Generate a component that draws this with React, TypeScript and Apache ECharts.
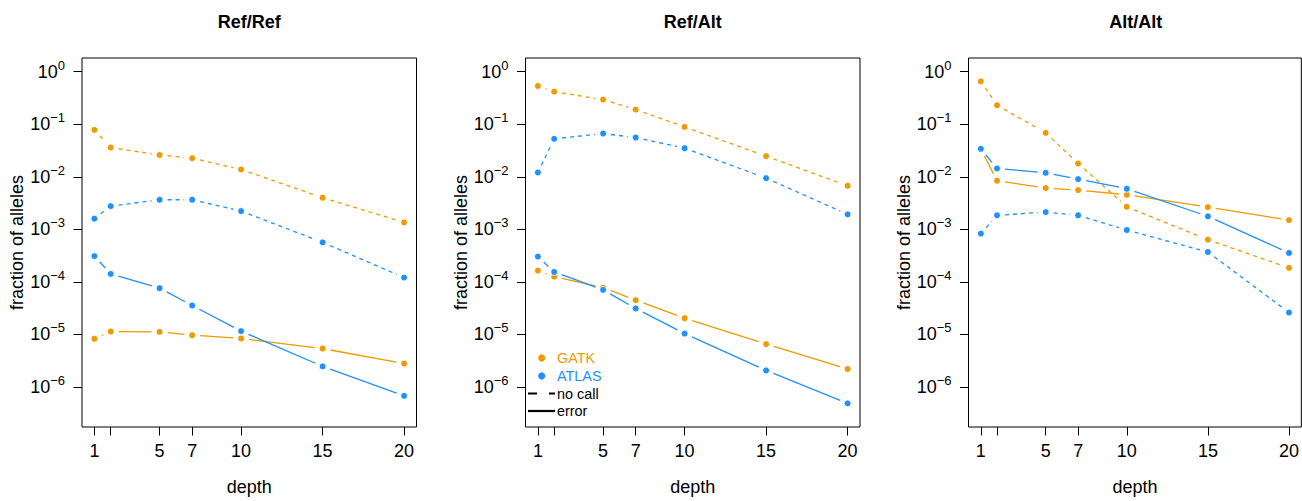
import React, { useEffect, useRef } from 'react';
import * as echarts from 'echarts';

// ---------- data ----------
const depths = [1, 2, 5, 7, 10, 15, 20];
const depthTicks = [1, 2, 5, 7, 10, 15, 20];
const depthTickLabels = [1, 5, 7, 10, 15, 20];
const yTickExponents = [0, -1, -2, -3, -4, -5, -6];
const panelTitles = ['Ref/Ref', 'Ref/Alt', 'Alt/Alt'];

const refRefGatkNoCall = [0.078, 0.036, 0.026, 0.0226, 0.0138, 0.004, 0.00136];
const refRefAtlasNoCall = [0.0016, 0.00277, 0.00366, 0.00366, 0.00223, 0.000566, 0.000121];
const refRefGatkError = [8.3e-6, 1.14e-5, 1.12e-5, 9.7e-6, 8.4e-6, 5.4e-6, 2.8e-6];
const refRefAtlasError = [3.1e-4, 1.42e-4, 7.6e-5, 3.56e-5, 1.16e-5, 2.47e-6, 6.8e-7];

const refAltGatkNoCall = [0.535, 0.417, 0.294, 0.19, 0.089, 0.0247, 0.00675];
const refAltAtlasNoCall = [0.0121, 0.0527, 0.0665, 0.0558, 0.035, 0.00944, 0.00193];
const refAltGatkError = [1.64e-4, 1.26e-4, 7.8e-5, 4.5e-5, 2.04e-5, 6.55e-6, 2.2e-6];
const refAltAtlasError = [3.03e-4, 1.55e-4, 7.05e-5, 3.12e-5, 1.04e-5, 2.07e-6, 4.9e-7];

const altAltGatkNoCall = [0.655, 0.23, 0.0685, 0.0179, 0.00269, 6.37e-4, 1.85e-4];
const altAltAtlasNoCall = [8.3e-4, 1.85e-3, 2.13e-3, 1.85e-3, 9.7e-4, 3.71e-4, 2.62e-5];
const altAltGatkError = [0.034, 0.0084, 0.0061, 0.00558, 0.00455, 0.00265, 0.0015];
const altAltAtlasError = [0.034, 0.0144, 0.0119, 0.00903, 0.00592, 0.00177, 3.56e-4];

const panelSeries = [
  { gatkNoCall: refRefGatkNoCall, atlasNoCall: refRefAtlasNoCall, gatkError: refRefGatkError, atlasError: refRefAtlasError },
  { gatkNoCall: refAltGatkNoCall, atlasNoCall: refAltAtlasNoCall, gatkError: refAltGatkError, atlasError: refAltAtlasError },
  { gatkNoCall: altAltGatkNoCall, atlasNoCall: altAltAtlasNoCall, gatkError: altAltGatkError, atlasError: altAltAtlasError },
];

// ---------- style ----------
const FONT = '"Liberation Sans", Arial, Helvetica, sans-serif';
const ORANGE = '#EE9A00';
const BLUE = '#1E90FF';
const GAP = 8;
const gridLefts = [82, 525.5, 968.5];
const GRID_TOP = 58;
const GRID_H = 370;
const GRID_W = 334.5;

function makeRender(color: string, dashed: boolean) {
  return (params: any, api: any) => {
    const p = api.coord([api.value(0), api.value(1)]);
    const children: any[] = [];
    if (api.value(4) === 1) {
      const q = api.coord([api.value(2), api.value(3)]);
      const dx = q[0] - p[0];
      const dy = q[1] - p[1];
      const len = Math.hypot(dx, dy);
      if (len > 2 * GAP) {
        const ux = dx / len;
        const uy = dy / len;
        children.push({
          type: 'line',
          shape: { x1: p[0] + ux * GAP, y1: p[1] + uy * GAP, x2: q[0] - ux * GAP, y2: q[1] - uy * GAP },
          style: { stroke: color, lineWidth: 1.3, lineDash: dashed ? [4, 4] : undefined, fill: null },
        });
      }
    }
    children.push({
      type: 'circle',
      shape: { cx: p[0], cy: p[1], r: 3.4 },
      style: { fill: color, stroke: '#ffffff', lineWidth: 0.8 },
    });
    return { type: 'group', children };
  };
}

function buildData(vals: number[]) {
  return depths.map((d, i) => {
    const hasNext = i < depths.length - 1;
    return [d, vals[i], hasNext ? depths[i + 1] : d, hasNext ? vals[i + 1] : vals[i], hasNext ? 1 : 0];
  });
}

function buildOption() {
  const grid: any[] = [];
  const xAxis: any[] = [];
  const yAxis: any[] = [];
  const series: any[] = [];
  const title: any[] = [];

  gridLefts.forEach((left, i) => {
    grid.push({
      left, top: GRID_TOP, width: GRID_W, height: GRID_H,
      show: true, borderColor: '#000', borderWidth: 1, backgroundColor: 'transparent',
    });
    title.push({
      text: panelTitles[i], left: left + GRID_W / 2, top: 13, textAlign: 'center', padding: 0,
      textStyle: { fontSize: 18, fontWeight: 'bold', color: '#000', fontFamily: FONT },
    });
    xAxis.push({
      gridIndex: i, type: 'value', min: 0.24, max: 20.76,
      name: 'depth', nameLocation: 'middle', nameGap: 51,
      nameTextStyle: { fontSize: 18, color: '#000', fontFamily: FONT },
      axisLine: { show: false, onZero: false },
      splitLine: { show: false },
      axisTick: { show: true, length: 8.5, lineStyle: { color: '#000', width: 1 }, customValues: depthTicks },
      axisLabel: { customValues: depthTickLabels, fontSize: 18, color: '#000', fontFamily: FONT, margin: 15 },
    });
    yAxis.push({
      gridIndex: i, type: 'log', logBase: 10, min: Math.pow(10, -6.76), max: Math.pow(10, 0.26),
      name: 'fraction of alleles', nameLocation: 'middle', nameGap: 52,
      nameTextStyle: { fontSize: 18, color: '#000', fontFamily: FONT },
      axisLine: { show: false, onZero: false },
      splitLine: { show: false },
      minorTick: { show: false },
      axisTick: { show: true, length: 8.5, lineStyle: { color: '#000', width: 1 }, customValues: yTickExponents.map((e) => Math.pow(10, e)) },
      axisLabel: {
        customValues: yTickExponents.map((e) => Math.pow(10, e)),
        margin: 17,
        formatter: (v: number) => {
          const e = Math.round(Math.log10(v));
          return '{a|10}{b|' + (e === 0 ? '0' : '\u2212' + String(-e)) + '}';
        },
        rich: {
          a: { fontSize: 18, fontFamily: FONT, color: '#000', verticalAlign: 'bottom', lineHeight: 18 },
          b: { fontSize: 13, fontFamily: FONT, color: '#000', verticalAlign: 'bottom', lineHeight: 13, padding: [0, 0, 9, 0] },
        },
      },
    });
    const s = panelSeries[i];
    const defs = [
      { name: 'GATK no call', vals: s.gatkNoCall, color: ORANGE, dashed: true },
      { name: 'ATLAS no call', vals: s.atlasNoCall, color: BLUE, dashed: true },
      { name: 'GATK error', vals: s.gatkError, color: ORANGE, dashed: false },
      { name: 'ATLAS error', vals: s.atlasError, color: BLUE, dashed: false },
    ];
    defs.forEach((d) => {
      series.push({
        type: 'custom', name: d.name, coordinateSystem: 'cartesian2d',
        xAxisIndex: i, yAxisIndex: i,
        dimensions: ['x', 'y', 'nx', 'ny', 'hasNext'],
        encode: { x: 0, y: 1 },
        data: buildData(d.vals),
        renderItem: makeRender(d.color, d.dashed),
      });
    });
  });

  const graphic = [
    { type: 'circle', shape: { cx: 541.7, cy: 358, r: 3.6 }, style: { fill: ORANGE } },
    { type: 'text', x: 557, y: 358, style: { text: 'GATK', fill: ORANGE, font: '14.4px ' + FONT, verticalAlign: 'middle', align: 'left' } },
    { type: 'circle', shape: { cx: 541.7, cy: 376, r: 3.6 }, style: { fill: BLUE } },
    { type: 'text', x: 557, y: 376, style: { text: 'ATLAS', fill: BLUE, font: '14.4px ' + FONT, verticalAlign: 'middle', align: 'left' } },
    { type: 'line', shape: { x1: 528, y1: 393.5, x2: 555, y2: 393.5 }, style: { stroke: '#000', lineWidth: 2.2, lineDash: [9, 12] } },
    { type: 'text', x: 557, y: 393.5, style: { text: 'no call', fill: '#000', font: '14.4px ' + FONT, verticalAlign: 'middle', align: 'left' } },
    { type: 'line', shape: { x1: 528, y1: 411, x2: 555, y2: 411 }, style: { stroke: '#000', lineWidth: 2.2 } },
    { type: 'text', x: 557, y: 411, style: { text: 'error', fill: '#000', font: '14.4px ' + FONT, verticalAlign: 'middle', align: 'left' } },
  ];

  return {
    animation: false,
    backgroundColor: '#ffffff',
    title,
    grid,
    xAxis,
    yAxis,
    series,
    graphic,
  };
}

export default function App() {
  const ref = useRef<HTMLDivElement>(null);
  useEffect(() => {
    if (!ref.current) return;
    const chart = echarts.init(ref.current, undefined, { renderer: 'svg' });
    chart.setOption(buildOption() as any);
    return () => chart.dispose();
  }, []);
  return <div ref={ref} style={{ position: 'absolute', left: 0, top: 0, width: 1302, height: 501 }} />;
}
